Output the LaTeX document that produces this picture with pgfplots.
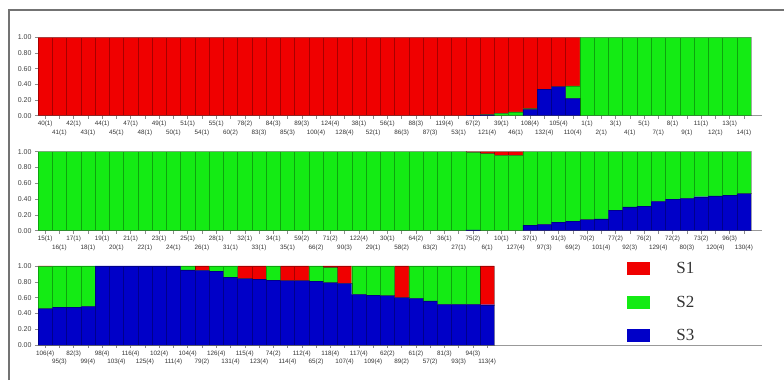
\documentclass[border=0pt]{standalone}
\usepackage{fontspec}
\setmainfont{Liberation Sans}
\newfontfamily\legendfont{Liberation Serif}
\usepackage{pgfplots}
\usepackage{pgfplotstable}
\pgfplotsset{compat=1.18}

\definecolor{sOne}{RGB}{240,0,0}
\definecolor{sTwo}{RGB}{20,235,20}
\definecolor{sThree}{RGB}{0,0,200}

% membership coefficients: S1, S2, S3 per individual
\pgfplotstableread{
x s1 s2 s3
0 1 0 0
1 1 0 0
2 1 0 0
3 1 0 0
4 1 0 0
5 1 0 0
6 1 0 0
7 1 0 0
8 1 0 0
9 1 0 0
10 1 0 0
11 1 0 0
12 1 0 0
13 1 0 0
14 1 0 0
15 1 0 0
16 1 0 0
17 1 0 0
18 1 0 0
19 1 0 0
20 1 0 0
21 1 0 0
22 1 0 0
23 1 0 0
24 1 0 0
25 1 0 0
26 1 0 0
27 1 0 0
28 1 0 0
29 1 0 0
30 0.995 0 0.005
31 0.985 0.005 0.01
32 0.97 0.03 0
33 0.95 0.05 0
34 0.91 0.01 0.08
35 0.66 0 0.34
36 0.63 0 0.37
37 0.62 0.16 0.22
38 0 1 0
39 0 1 0
40 0 1 0
41 0 1 0
42 0 1 0
43 0 1 0
44 0 1 0
45 0 1 0
46 0 1 0
47 0 1 0
48 0 1 0
49 0 1 0
}\panelA

\pgfplotstableread{
x s1 s2 s3
0 0 1 0
1 0 1 0
2 0 1 0
3 0 1 0
4 0 1 0
5 0 1 0
6 0 1 0
7 0 1 0
8 0 1 0
9 0 1 0
10 0 1 0
11 0 1 0
12 0 1 0
13 0 1 0
14 0 1 0
15 0 1 0
16 0 1 0
17 0 1 0
18 0 1 0
19 0 1 0
20 0 1 0
21 0 1 0
22 0 1 0
23 0 1 0
24 0 1 0
25 0 1 0
26 0 1 0
27 0 1 0
28 0 1 0
29 0 1 0
30 0.01 0.98 0.01
31 0.025 0.975 0
32 0.045 0.955 0
33 0.045 0.955 0
34 0 0.93 0.07
35 0 0.92 0.08
36 0 0.89 0.11
37 0 0.88 0.12
38 0 0.86 0.14
39 0 0.85 0.15
40 0 0.74 0.26
41 0 0.70 0.30
42 0 0.69 0.31
43 0 0.63 0.37
44 0 0.60 0.40
45 0 0.59 0.41
46 0 0.57 0.43
47 0 0.56 0.44
48 0 0.55 0.45
49 0 0.53 0.47
}\panelB

\pgfplotstableread{
x s1 s2 s3
0 0.005 0.535 0.46
1 0 0.52 0.48
2 0 0.52 0.48
3 0 0.51 0.49
4 0 0 1
5 0 0 1
6 0 0 1
7 0 0 1
8 0 0 1
9 0 0 1
10 0 0.05 0.95
11 0.055 0 0.945
12 0 0.065 0.935
13 0 0.14 0.86
14 0.16 0 0.84
15 0.165 0 0.835
16 0 0.18 0.82
17 0.185 0 0.815
18 0.185 0 0.815
19 0 0.19 0.81
20 0.02 0.19 0.79
21 0.22 0 0.78
22 0 0.36 0.64
23 0 0.37 0.63
24 0 0.375 0.625
25 0.40 0 0.60
26 0 0.41 0.59
27 0 0.44 0.56
28 0 0.485 0.515
29 0 0.485 0.515
30 0 0.485 0.515
31 0.49 0 0.51
}\panelC

\pgfplotsset{
  structure/.style={
    scale only axis,
    width=724pt, height=79pt,
    xmin=-0.5, xmax=50.27,
    ymin=0, ymax=1,
    ybar stacked, bar width=1,
    axis x line*=bottom, axis y line*=left,
    y axis line style={draw=none},
    x axis line style={draw=black!40, line width=0.9pt, -},
    tick align=outside,
    major tick length=3pt,
    tick style={draw=black!45, line width=0.5pt},
    ytick={0,0.2,0.4,0.6,0.8,1},
    /pgf/number format/assume math mode=true,
    yticklabel style={font=\fontsize{7}{8}\selectfont, text=black!75,
      /pgf/number format/fixed, /pgf/number format/fixed zerofill,
      /pgf/number format/precision=2},
    xticklabel style={font=\fontsize{6.3}{7}\selectfont, text=black!80,
      inner sep=1pt, anchor=north, yshift=-1.5pt},
    extra x tick style={xticklabel style={yshift=-8.6pt}},
    every axis plot/.append style={draw=black, draw opacity=0.3, line width=0.4pt},
  },
}

\begin{document}
\begin{tikzpicture}[x=1pt,y=1pt]
\path[use as bounding box] (0,0) rectangle (784,380);
\draw[black!55, line width=1.2pt] (9,0) -- (9,370) -- (784,370);

% upper panel
\begin{axis}[structure, at={(38pt,264.3pt)}, anchor=south west, height=78.4pt,
  xtick={0,2,...,48},
  xticklabels={40(1),42(1),44(1),47(1),49(1),51(1),55(1),78(2),84(3),89(3),124(4),38(1),56(1),88(3),119(4),67(2),39(1),108(4),105(4),1(1),3(1),5(1),8(1),11(1),13(1)},
  extra x ticks={1,3,...,49},
  extra x tick labels={41(1),43(1),45(1),48(1),50(1),54(1),60(2),83(3),85(3),100(4),128(4),52(1),86(3),87(3),53(1),121(4),46(1),132(4),110(4),2(1),4(1),7(1),9(1),12(1),14(1)},
]
\addplot[fill=sThree] table[x=x,y=s3] {\panelA};
\addplot[fill=sTwo] table[x=x,y=s2] {\panelA};
\addplot[fill=sOne] table[x=x,y=s1] {\panelA};
\end{axis}

% middle panel
\begin{axis}[structure, at={(38pt,149.3pt)}, anchor=south west,
  xtick={0,2,...,48},
  xticklabels={15(1),17(1),19(1),21(1),23(1),25(1),28(1),32(1),34(1),59(2),71(2),122(4),30(1),64(2),36(1),75(2),10(1),37(1),91(3),70(2),77(2),76(2),72(2),73(2),96(3)},
  extra x ticks={1,3,...,49},
  extra x tick labels={16(1),18(1),20(1),22(1),24(1),26(1),31(1),33(1),35(1),66(2),90(3),29(1),58(2),63(2),27(1),6(1),127(4),97(3),69(2),101(4),92(3),129(4),80(3),120(4),130(4)},
]
\addplot[fill=sThree] table[x=x,y=s3] {\panelB};
\addplot[fill=sTwo] table[x=x,y=s2] {\panelB};
\addplot[fill=sOne] table[x=x,y=s1] {\panelB};
\end{axis}

% lower panel with legend
\begin{axis}[structure, at={(38pt,35pt)}, anchor=south west,
  xtick={0,2,...,30},
  xticklabels={106(4),82(3),98(4),116(4),102(4),104(4),126(4),115(4),74(2),112(4),118(4),117(4),62(2),61(2),81(3),94(3)},
  extra x ticks={1,3,...,31},
  extra x tick labels={95(3),99(4),103(4),125(4),111(4),79(2),131(4),123(4),114(4),65(2),107(4),109(4),89(2),57(2),93(3),113(4)},
  reverse legend,
  legend image code/.code={\fill[#1, draw=none] (0pt,-1.5pt) rectangle (23pt,11.5pt); \path (49pt,0pt);},
  legend style={at={(axis description cs:0.8135,1.053)}, anchor=north west,
    draw=none, fill=none, inner sep=0pt, row sep=20.5pt,
    nodes={inner sep=0pt, anchor=base west},
    font=\legendfont\fontsize{17}{17}\selectfont, text=black!80},
  legend cell align=left,
]
\addplot[fill=sThree] table[x=x,y=s3] {\panelC};
\addlegendentry{S3}
\addplot[fill=sTwo] table[x=x,y=s2] {\panelC};
\addlegendentry{S2}
\addplot[fill=sOne] table[x=x,y=s1] {\panelC};
\addlegendentry{S1}
\end{axis}
\end{tikzpicture}
\end{document}
